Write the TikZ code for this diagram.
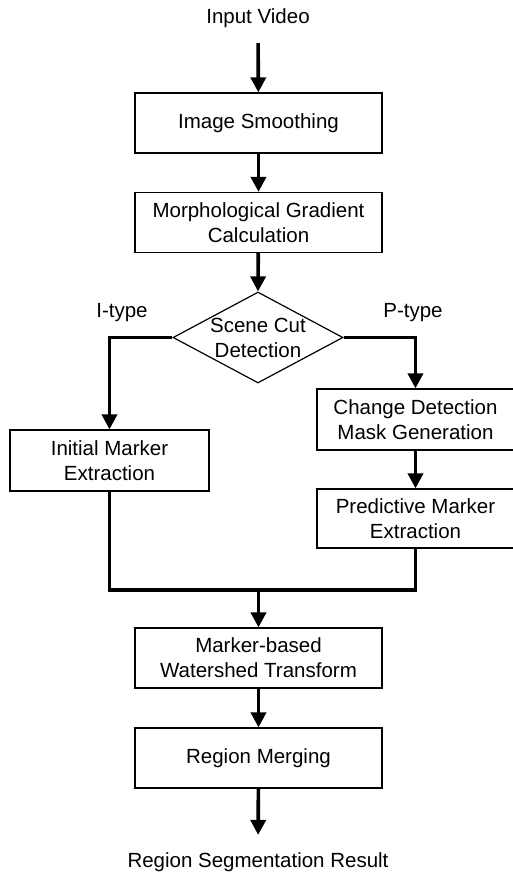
\documentclass[tikz,border=0pt]{standalone}
\usepackage{fontspec}
\setmainfont{Liberation Sans}
\usetikzlibrary{arrows.meta, positioning, shapes.geometric}

\begin{document}
\begin{tikzpicture}[
  x=1pt, y=-1pt,
  font=\fontsize{20.5}{25}\selectfont,
  stage/.style={draw, line width=1.2pt, minimum width=247pt, minimum height=60pt,
                align=center, inner sep=0pt},
  side/.style={stage, minimum width=197pt, minimum height=60pt},
  test/.style={draw, diamond, line width=1.2pt, minimum width=170pt, minimum height=91pt,
               inner sep=0pt},
  a/.style={-{Triangle[length=15pt,width=15pt]}, line width=3.6pt},
  link/.style={line width=3.6pt, line join=miter}
]
\useasboundingbox (0,0) rectangle (513,875);

\node (input) at (258,18) {Input Video};
\node[stage] (smooth) at (258.5,123) {Image Smoothing};
\node[stage] (gradient) at (258.5,222.5) {Morphological Gradient\\Calculation};
\node[test] (scene) at (258,337.5) {};
\node[align=center, inner sep=0pt] (scenetext) at (scene.center) {Scene Cut\\Detection};
\node (itype) at (122,313) {I-type};
\node (ptype) at (413,313) {P-type};

\node[side, minimum width=199pt, minimum height=61pt] (initial) at (109.5,460.5) {Initial Marker\\Extraction};
\node[side, minimum height=61pt] (change) at (415.5,419.5) {Change Detection\\Mask Generation};
\node[side, minimum height=59pt] (predict) at (415.5,518.5) {Predictive Marker\\Extraction};

\coordinate (join) at (258.5,590);
\node[stage] (watershed) at (258.5,658) {Marker-based\\Watershed Transform};
\node[stage] (merging) at (258.5,758) {Region Merging};
\node (result) at (258,862) {Region Segmentation Result};

\draw[a, shorten <=12pt] (input) -- (smooth);
\draw[a] (smooth) -- (gradient);
\draw[a] (gradient) -- (scene.north);
\draw[a] (scene.west) -| (initial.north);
\draw[a] (scene.east) -| (change.north);
\draw[a] (change) -- (predict);
\draw[link] (initial.south) |- (join) -| (predict.south);
\draw[a] (join) -- (watershed.north);
\draw[a] (watershed) -- (merging);
\draw[a, shorten >=14pt] (merging) -- (result);
\end{tikzpicture}
\end{document}
